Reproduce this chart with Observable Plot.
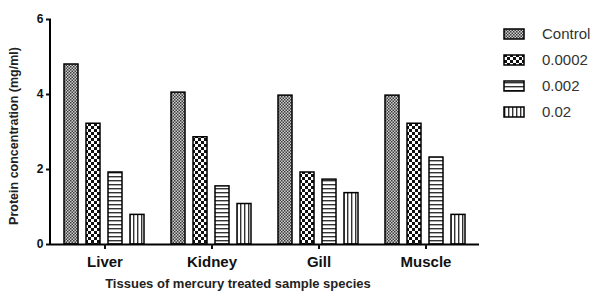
<!DOCTYPE html>
<html>
<head>
<meta charset="utf-8">
<script src="https://cdn.jsdelivr.net/npm/d3@7"></script>
<script src="https://cdn.jsdelivr.net/npm/@observablehq/plot@0.6"></script>
<style>
  html, body { margin: 0; padding: 0; background: #fff; }
  #chart { position: relative; width: 598px; height: 291px; }
</style>
</head>
<body>
<div id="chart"></div>
<script>
const tissues = ["Liver", "Kidney", "Gill", "Muscle"];
const concentrations = ["Control", "0.0002", "0.002", "0.02"];
const control = [4.8, 4.05, 3.97, 3.97];
const c0002 = [3.22, 2.86, 1.92, 3.22];
const c002 = [1.92, 1.55, 1.73, 2.32];
const c02 = [0.79, 1.08, 1.37, 0.79];
const yTicks = [0, 2, 4, 6];
const patternIds = ["pat-control", "pat-c0002", "pat-c002", "pat-c02"];

const series = [control, c0002, c002, c02];
const data = [];
tissues.forEach((t, i) => {
  concentrations.forEach((c, j) => {
    data.push({tissue: t, conc: c, value: series[j][i]});
  });
});

const plot = Plot.plot({
  width: 598,
  height: 291,
  marginLeft: 50,
  marginRight: 118,
  marginTop: 19,
  marginBottom: 47,
  style: {fontFamily: "Liberation Sans, Arial, sans-serif", background: "#fff", color: "#111"},
  fx: {domain: tissues, padding: 0, label: null},
  x: {domain: concentrations, paddingInner: 0.36, paddingOuter: 0.56, axis: null},
  y: {domain: [0, 6], axis: null},
  color: {domain: concentrations, range: patternIds.map(id => `url(#${id})`)},
  marks: [
    Plot.barY(data, {fx: "tissue", x: "conc", y: "value", fill: "conc", stroke: "#000", strokeWidth: 1.5}),
    Plot.ruleY([0], {stroke: "#000", strokeWidth: 2}),
    Plot.axisY({ticks: yTicks, tickFormat: d3.format("d"), tickSize: 5, tickPadding: 3, fontWeight: "bold", fontSize: 12, label: null, strokeWidth: 2}),
    Plot.axisFx({anchor: "bottom", tickSize: 5, tickPadding: 7, fontWeight: "bold", fontSize: 15, label: null, strokeWidth: 2})
  ]
});

const svg = d3.select(plot);
const yScale = plot.scale("y");

// y-axis domain line, positioned from the plot's own y scale
svg.append("line")
  .attr("x1", 50).attr("x2", 50)
  .attr("y1", yScale.apply(6)).attr("y2", yScale.apply(0) + 1)
  .attr("stroke", "#000").attr("stroke-width", 2);

const defs = svg.insert("defs", ":first-child");

// Control: fine gray stipple
const p0 = defs.append("pattern").attr("id", patternIds[0]).attr("patternUnits", "userSpaceOnUse").attr("width", 3).attr("height", 3);
p0.append("rect").attr("width", 3).attr("height", 3).attr("fill", "#d0d0d0");
p0.append("rect").attr("x", 0).attr("y", 0).attr("width", 1.5).attr("height", 1.5).attr("fill", "#3a3a3a");
p0.append("rect").attr("x", 1.5).attr("y", 1.5).attr("width", 1.5).attr("height", 1.5).attr("fill", "#3a3a3a");

// 0.0002: coarse checkerboard
const p1 = defs.append("pattern").attr("id", patternIds[1]).attr("patternUnits", "userSpaceOnUse").attr("width", 6).attr("height", 6);
p1.append("rect").attr("width", 6).attr("height", 6).attr("fill", "#fff");
p1.append("rect").attr("x", 0).attr("y", 0).attr("width", 3).attr("height", 3).attr("fill", "#111");
p1.append("rect").attr("x", 3).attr("y", 3).attr("width", 3).attr("height", 3).attr("fill", "#111");

// 0.002: horizontal lines
const p2 = defs.append("pattern").attr("id", patternIds[2]).attr("patternUnits", "userSpaceOnUse").attr("width", 4).attr("height", 4);
p2.append("rect").attr("width", 4).attr("height", 4).attr("fill", "#fff");
p2.append("rect").attr("x", 0).attr("y", 0).attr("width", 4).attr("height", 1.4).attr("fill", "#333");

// 0.02: vertical lines
const p3 = defs.append("pattern").attr("id", patternIds[3]).attr("patternUnits", "userSpaceOnUse").attr("width", 4).attr("height", 4);
p3.append("rect").attr("width", 4).attr("height", 4).attr("fill", "#fff");
p3.append("rect").attr("x", 0).attr("y", 0).attr("width", 1.4).attr("height", 4).attr("fill", "#333");

// Axis titles
svg.append("text")
  .attr("transform", "translate(18,136) rotate(-90)")
  .attr("text-anchor", "middle")
  .attr("font-weight", "bold")
  .attr("font-size", 12.5)
  .attr("fill", "#222")
  .text("Protein concentration (mg/ml)");

svg.append("text")
  .attr("x", 238)
  .attr("y", 288)
  .attr("text-anchor", "middle")
  .attr("font-weight", "bold")
  .attr("font-size", 13)
  .attr("fill", "#222")
  .text("Tissues of mercury treated sample species");

// Legend
const legend = svg.append("g").attr("transform", "translate(504,34)");
concentrations.forEach((c, j) => {
  const g = legend.append("g").attr("transform", `translate(0,${j * 26})`);
  g.append("rect").attr("x", 0).attr("y", -5).attr("width", 20).attr("height", 10)
    .attr("fill", `url(#${patternIds[j]})`).attr("stroke", "#000").attr("stroke-width", 1.5);
  g.append("text").attr("x", 38).attr("y", 0).attr("dy", "0.35em")
    .attr("text-anchor", "start")
    .attr("font-size", 15).attr("fill", "#333").text(c);
});

document.getElementById("chart").appendChild(plot);
</script>
</body>
</html>
